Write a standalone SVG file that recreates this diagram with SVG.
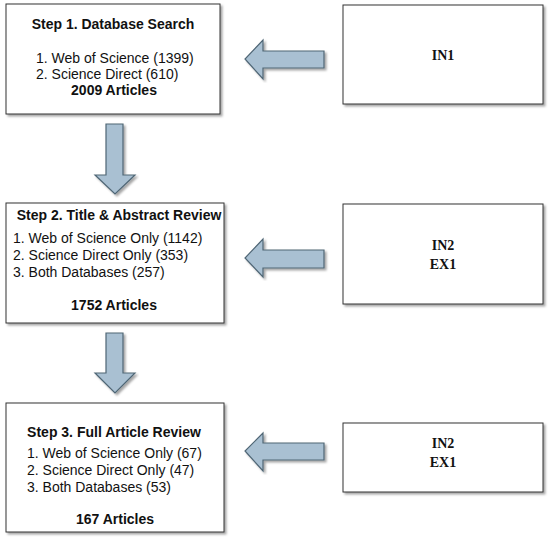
<svg xmlns="http://www.w3.org/2000/svg" width="550" height="542" viewBox="0 0 550 542">
<defs>
<filter id="sh" x="-5%" y="-5%" width="115%" height="115%">
<feDropShadow dx="2" dy="2" stdDeviation="1" flood-color="#000" flood-opacity="0.35"/>
</filter>
</defs>
<style>
.box{fill:#fff;stroke:#333;stroke-width:1;filter:url(#sh)}
.arr{fill:#a9c0d2;stroke:#4f6675;stroke-width:1.2;filter:url(#sh)}
.t{font-family:"Liberation Sans",Arial,sans-serif;font-size:14px;fill:#111}
.b{font-weight:bold}
.s{font-family:"Liberation Serif","Times New Roman",serif;font-size:14px;font-weight:bold;fill:#111;text-anchor:middle}
.c{text-anchor:middle}
</style>
<rect width="550" height="542" fill="#fff"/>
<g id="connectors">
<path class="arr" d="M324,51 L263,51 L263,40 L245,59 L263,79 L263,68 L324,68 Z"/>
<path class="arr" d="M324,250 L263,250 L263,239 L245,258 L263,277 L263,268 L324,268 Z"/>
<path class="arr" d="M324,443 L263,443 L263,433 L245,451 L263,471 L263,460 L324,460 Z"/>
<path class="arr" d="M106,124 L123,124 L123,175 L135,175 L115,194 L95,175 L106,175 Z"/>
<path class="arr" d="M106,333 L123,333 L123,373 L135,373 L115,393 L95,373 L106,373 Z"/>
</g>
<g id="step1">
<rect class="box" x="6" y="4" width="214" height="110"/>
<text class="t b c" x="113" y="29">Step 1. Database Search</text>
<text class="t" x="36" y="63">1. Web of Science (1399)</text>
<text class="t" x="36" y="79">2. Science Direct (610)</text>
<text class="t b c" x="114" y="95">2009 Articles</text>
</g>
<g id="in1">
<rect class="box" x="343" y="5" width="200" height="99"/>
<text class="s" x="443" y="60">IN1</text>
</g>
<g id="step2">
<rect class="box" x="6" y="203" width="218" height="120"/>
<text class="t b c" x="119" y="220">Step 2. Title &amp; Abstract Review</text>
<text class="t" x="13" y="243">1. Web of Science Only (1142)</text>
<text class="t" x="13" y="260">2. Science Direct Only (353)</text>
<text class="t" x="13" y="277">3. Both Databases (257)</text>
<text class="t b c" x="114" y="310">1752 Articles</text>
</g>
<g id="in2a">
<rect class="box" x="343" y="204" width="200" height="100"/>
<text class="s" x="443" y="250">IN2</text>
<text class="s" x="443" y="269">EX1</text>
</g>
<g id="step3">
<rect class="box" x="6" y="403" width="218" height="129"/>
<text class="t b c" x="114" y="437">Step 3. Full Article Review</text>
<text class="t" x="27" y="458">1. Web of Science Only (67)</text>
<text class="t" x="27" y="475">2. Science Direct Only (47)</text>
<text class="t" x="27" y="492">3. Both Databases (53)</text>
<text class="t b c" x="115" y="524">167 Articles</text>
</g>
<g id="in2b">
<rect class="box" x="343" y="423" width="200" height="69"/>
<text class="s" x="443" y="448">IN2</text>
<text class="s" x="443" y="467">EX1</text>
</g>
</svg>
